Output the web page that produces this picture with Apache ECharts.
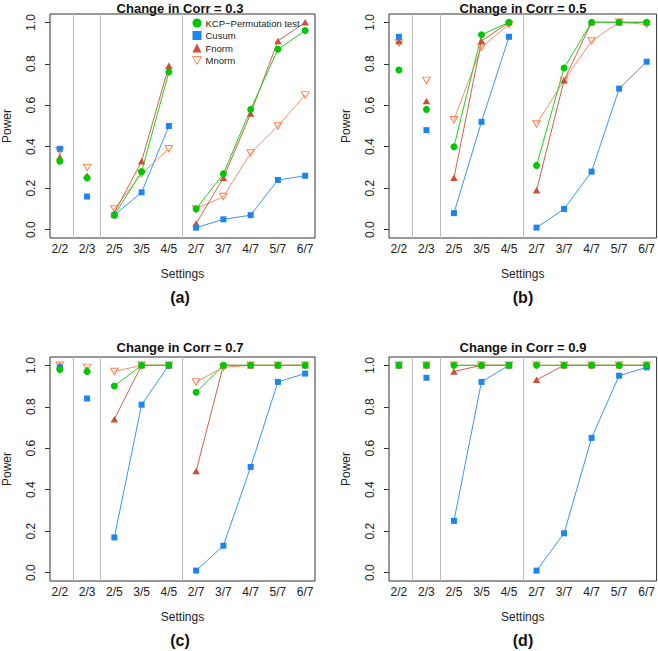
<!DOCTYPE html>
<html>
<head>
<meta charset="utf-8">
<script src="https://cdn.jsdelivr.net/npm/echarts@6/dist/echarts.min.js"></script>
<style>
html,body{margin:0;padding:0;background:#fff;}
#chart{width:658px;height:651px;}
</style>
</head>
<body>
<div id="chart"></div>
<script>
// ---- data ----
const categories = ['2/2','2/3','2/5','3/5','4/5','2/7','3/7','4/7','5/7','6/7'];
const groups = [[0],[1],[2,3,4],[5,6,7,8,9]];
const yTicks = [0, 0.2, 0.4, 0.6, 0.8, 1.0];
const methodNames = ['KCP\u2212Permutation test','Cusum','Fnorm','Mnorm'];
const panelTitles = ['Change in Corr = 0.3','Change in Corr = 0.5','Change in Corr = 0.7','Change in Corr = 0.9'];
const panelLabels = ['(a)','(b)','(c)','(d)'];

const kcpA   = [0.33,0.25,0.07,0.28,0.76,0.10,0.27,0.58,0.87,0.96];
const cusumA = [0.39,0.16,0.07,0.18,0.50,0.01,0.05,0.07,0.24,0.26];
const fnormA = [0.35,0.26,0.08,0.33,0.79,0.03,0.25,0.56,0.91,1.00];
const mnormA = [0.38,0.30,0.10,0.27,0.39,0.10,0.16,0.37,0.50,0.65];

const kcpB   = [0.77,0.58,0.40,0.94,1.00,0.31,0.78,1.00,1.00,1.00];
const cusumB = [0.93,0.48,0.08,0.52,0.93,0.01,0.10,0.28,0.68,0.81];
const fnormB = [0.91,0.62,0.25,0.91,1.00,0.19,0.72,1.00,1.00,1.00];
const mnormB = [0.90,0.72,0.53,0.88,0.99,0.51,0.72,0.91,1.00,0.99];

const kcpC   = [0.98,0.97,0.90,1.00,1.00,0.87,1.00,1.00,1.00,1.00];
const cusumC = [0.99,0.84,0.17,0.81,1.00,0.01,0.13,0.51,0.92,0.96];
const fnormC = [1.00,0.98,0.74,1.00,1.00,0.49,1.00,1.00,1.00,1.00];
const mnormC = [1.00,0.99,0.97,1.00,1.00,0.92,0.99,1.00,1.00,1.00];

const kcpD   = [1.00,1.00,1.00,1.00,1.00,1.00,1.00,1.00,1.00,1.00];
const cusumD = [1.00,0.94,0.25,0.92,1.00,0.01,0.19,0.65,0.95,0.99];
const fnormD = [1.00,1.00,0.97,1.00,1.00,0.93,1.00,1.00,1.00,1.00];
const mnormD = [1.00,1.00,1.00,1.00,1.00,1.00,1.00,1.00,1.00,1.00];

const panelData = [
  [kcpA, cusumA, fnormA, mnormA],
  [kcpB, cusumB, fnormB, mnormB],
  [kcpC, cusumC, fnormC, mnormC],
  [kcpD, cusumD, fnormD, mnormD]
];

// ---- layout / style ----
const gridBoxes = [
  {left:45,  top:14,  width:270, height:224},
  {left:389, top:14,  width:268, height:224},
  {left:45,  top:357, width:270, height:224},
  {left:389, top:357, width:268, height:224}
];
const FONT = '"Liberation Sans", Arial, Helvetica, sans-serif';
const downTri = 'path://M0,0L20,0L10,17.32Z';
const styles = [
  {symbol:'circle', size:7, color:'#00c800', line:'#1fd01f', hollow:false},
  {symbol:'rect', size:6, color:'#1c86ee', line:'#3c95ee', hollow:false},
  {symbol:'triangle', size:[7.5,6.5], color:'#cd4f39', line:'#d0604a', hollow:false},
  {symbol:downTri, size:[7.5,6.5], color:'#ff7f50', line:'#fb9068', hollow:true}
];
const drawOrder = [3,2,1,0]; // Mnorm, Fnorm, Cusum, KCP

function buildData(vals){
  const out = [];
  groups.forEach((g, gi) => {
    g.forEach(i => out.push([i+1, vals[i]]));
    if (gi < groups.length-1) out.push([g[g.length-1]+1.5, '-']);
  });
  return out;
}

const grids = [], xAxes = [], yAxes = [], series = [], graphics = [];
gridBoxes.forEach((b, p) => {
  grids.push(Object.assign({show:true, borderColor:'#333', borderWidth:1, backgroundColor:'transparent', containLabel:false}, b));
  xAxes.push({
    type:'value', gridIndex:p, min:0.64, max:10.36,
    axisLine:{show:false}, axisTick:{show:false}, splitLine:{show:false},
    axisLabel:{customValues:[1,2,3,4,5,6,7,8,9,10], formatter:v => categories[Math.round(v)-1] || '',
      margin:5, fontSize:12, color:'#222', fontFamily:FONT},
    name:'Settings', nameLocation:'middle', nameGap:30,
    nameTextStyle:{fontSize:12, color:'#222', fontFamily:FONT}
  });
  yAxes.push({
    type:'value', gridIndex:p, min:-0.04, max:1.04,
    axisLine:{show:false}, splitLine:{show:false},
    axisTick:{show:true, customValues:yTicks, length:5, lineStyle:{color:'#333'}},
    axisLabel:{customValues:yTicks, formatter:v => v.toFixed(1), rotate:90, margin:13,
      fontSize:12, color:'#222', fontFamily:FONT},
    name:'Power', nameLocation:'middle', nameGap:37, nameRotate:90,
    nameTextStyle:{fontSize:12, color:'#222', fontFamily:FONT}
  });
  // separator lines
  series.push({
    type:'line', xAxisIndex:p, yAxisIndex:p, data:[], silent:true, z:1,
    markLine:{silent:true, symbol:['none','none'], label:{show:false}, animation:false,
      lineStyle:{type:'solid', color:'#bebebe', width:1},
      emphasis:{disabled:true},
      data:[{xAxis:1.5},{xAxis:2.5},{xAxis:5.5}]}
  });
  drawOrder.forEach(m => {
    const s = styles[m];
    series.push({
      name:methodNames[m], type:'line', xAxisIndex:p, yAxisIndex:p,
      data:buildData(panelData[p][m]), connectNulls:false,
      symbol:s.symbol, symbolSize:s.size, showSymbol:true, showAllSymbol:true,
      lineStyle:{color:s.line, width:1},
      itemStyle: s.hollow ? {color:'rgba(255,255,255,0)', borderColor:s.color, borderWidth:1}
                          : {color:s.color, borderWidth:0},
      emphasis:{disabled:true}, silent:true, animation:false, z:2, clip:false
    });
  });
  const cx = b.left + b.width/2;
  graphics.push({type:'text', x:cx, y:Math.max(8, b.top-10), silent:true,
    style:{text:panelTitles[p], x:0, y:0, textAlign:'center', textVerticalAlign:'middle',
      font:'bold 13px ' + FONT, fill:'#111'}});
  graphics.push({type:'text', x:cx, y:b.top+283, silent:true,
    style:{text:panelLabels[p], x:0, y:0, textAlign:'center', textVerticalAlign:'middle',
      font:'bold 16px ' + FONT, fill:'#111'}});
});

const legendData = [0,1,2,3].map(m => {
  const s = styles[m];
  const icon = m===0 ? 'circle' : m===1 ? 'rect' : m===2 ? 'triangle' : downTri;
  return {name:methodNames[m], icon:icon,
    itemStyle: s.hollow ? {color:'rgba(255,255,255,0)', borderColor:s.color, borderWidth:1}
                        : {color:s.color, borderWidth:0}};
});

const chart = echarts.init(document.getElementById('chart'), null, {renderer:'svg'});
chart.setOption({
  animation:false,
  backgroundColor:'#fff',
  grid:grids, xAxis:xAxes, yAxis:yAxes, series:series,
  legend:{data:legendData, orient:'vertical', left:192, top:18, itemWidth:9, itemHeight:9,
    itemGap:2.5, padding:0, selectedMode:false,
    textStyle:{fontSize:9.5, color:'#222', fontFamily:FONT, padding:[0,0,0,-1]}},
  graphic:graphics
});
</script>
</body>
</html>
